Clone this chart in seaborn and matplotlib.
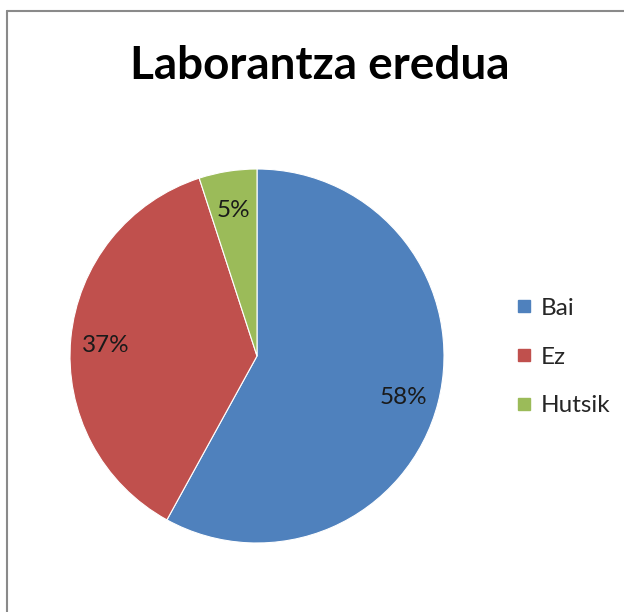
import matplotlib
matplotlib.use("Agg")
import numpy as np
import matplotlib.pyplot as plt
import seaborn as sns
from matplotlib.lines import Line2D

# chart data
categories = ["Bai", "Ez", "Hutsik"]
values = [58, 37, 5]
pct_labels = ["58%", "37%", "5%"]
colors = ["#4F81BD", "#C0504D", "#9BBB59"]

sns.set_theme(style="white")
plt.rcParams['font.family'] = ['Lato', 'DejaVu Sans']

fig = plt.figure(figsize=(6.24, 6.12), dpi=100)
W, H = 624, 612

# pie axes: centre (257, 356), radius 187 px
ax = fig.add_axes([70 / W, (H - 356 - 187) / H, 374 / W, 374 / H])
wedges, _ = ax.pie(values, colors=sns.color_palette(colors), startangle=90,
                   counterclock=False,
                   wedgeprops=dict(edgecolor="white", linewidth=0.8))
ax.set_xlim(-1, 1)
ax.set_ylim(-1, 1)
ax.set_aspect("equal")
ax.axis("off")

# percentage labels inside the slices
start = 90.0
total = sum(values)
for v, lab in zip(values, pct_labels):
    mid = start - v / total * 360 / 2
    start -= v / total * 360
    r = 0.81
    ax.text(r * np.cos(np.radians(mid)), r * np.sin(np.radians(mid)) - 0.02, lab,
            ha="center", va="center", fontsize=17.5, color="#1a1a1a")

# title
fig.text(320 / W, 1 - 66 / H, "Laborantza eredua", ha="center", va="center",
         fontsize=33, fontweight="bold", color="black")

# legend
handles = [Line2D([0], [0], marker="s", linestyle="", markersize=9,
                  markerfacecolor=c, markeredgecolor=c) for c in colors]
fig.legend(handles, categories, loc="center left",
           bbox_to_anchor=(490 / W, 1 - 357 / H), frameon=False,
           fontsize=17.5, handletextpad=0.2, labelspacing=1.15, handlelength=1.0)

# chart-area border (only top and left edges are visible in the crop)
fig.add_artist(Line2D([7 / W, 7 / W], [0, 1 - 11 / H], color="#8a8a8a", linewidth=1.5))
fig.add_artist(Line2D([7 / W, 1], [1 - 11 / H, 1 - 11 / H], color="#8a8a8a", linewidth=1.5))

fig.savefig("out.png", dpi=100)
